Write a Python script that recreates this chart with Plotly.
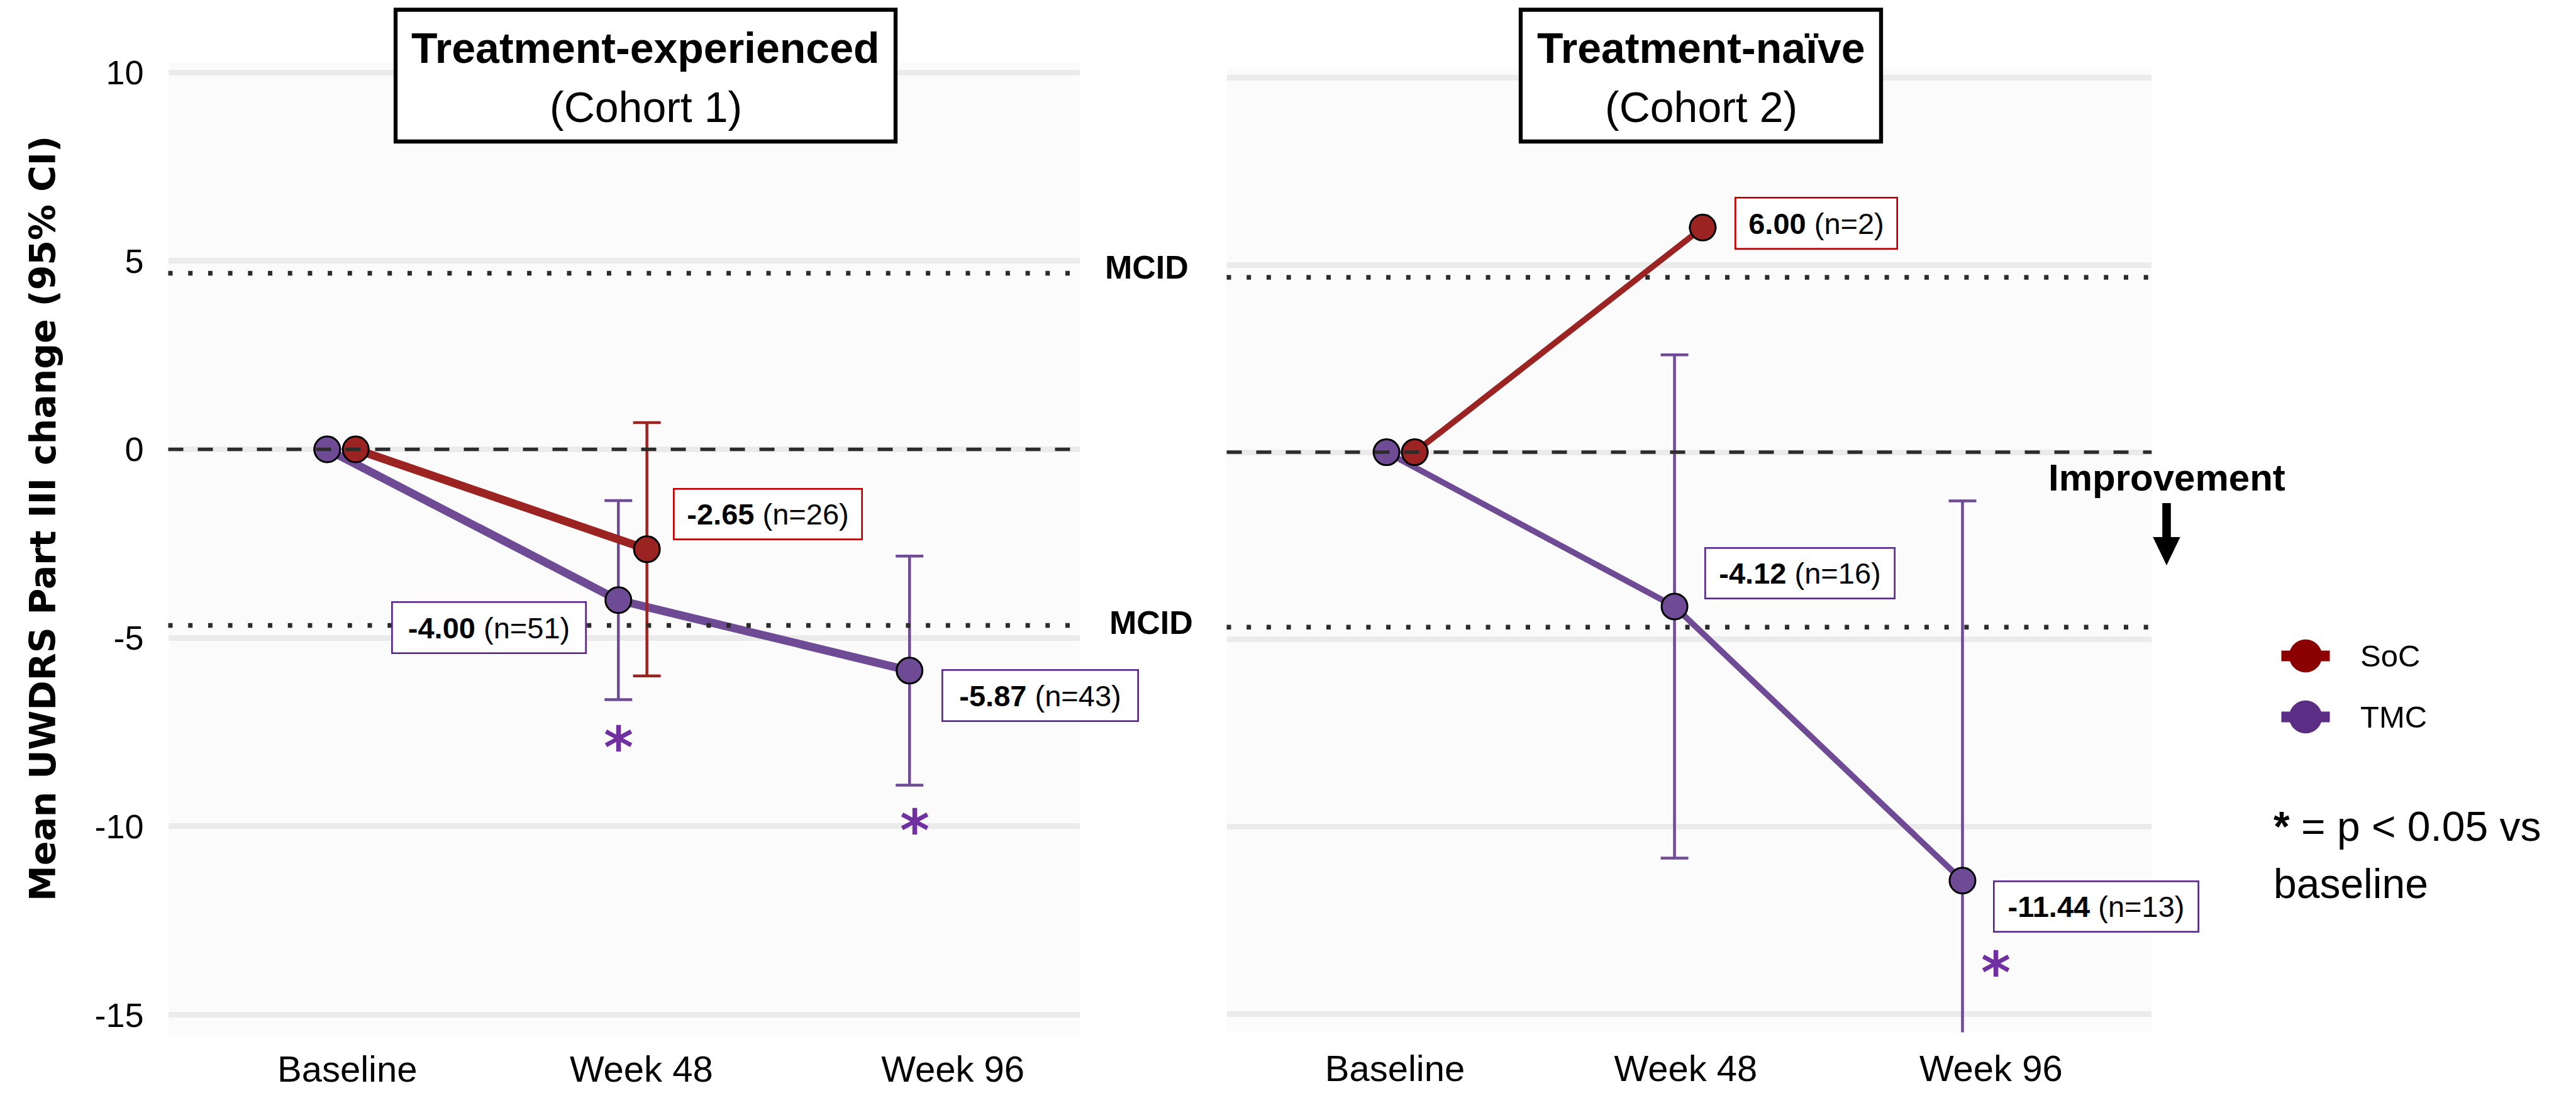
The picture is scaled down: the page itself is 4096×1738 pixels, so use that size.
import plotly.graph_objects as go

W, H = 4096, 1738

# ---------------- data ----------------
timepoints = ["Baseline", "Week 48", "Week 96"]

c1_soc_mean = [0.00, -2.65]
c1_soc_ci = [None, 3.36]
c1_soc_n = [None, 26]
c1_tmc_mean = [0.00, -4.00, -5.87]
c1_tmc_ci = [None, 2.64, 3.04]
c1_tmc_n = [None, 51, 43]
c1_tmc_sig = [False, True, True]

c2_soc_mean = [0.00, 6.00]
c2_soc_ci = [None, None]
c2_soc_n = [None, 2]
c2_tmc_mean = [0.00, -4.12, -11.44]
c2_tmc_ci = [None, 6.72, 10.14]
c2_tmc_n = [None, 16, 13]
c2_tmc_sig = [False, False, True]

mcid = 4.67
y_ticks = [-15, -10, -5, 0, 5, 10]
y_ticktext = ["-15", "-10", "-5", "0", "5", "10"]
series_names = ["SoC", "TMC"]

# ---------------- style ----------------
RED = "#9b2423"
PURPLE = "#6f4a95"
RED_BOX = "#c00000"
PURPLE_BOX = "#5b2c8c"
STAR = "#7030a0"
LEG_COLORS = ["#8b0000", "#5c2d84"]
SANS = "Liberation Sans, Arial, sans-serif"
DODGE = 0.049
# category label placement (slightly offset as in the original figure)
TICKPOS_LEFT = [0.02, 1.03, 2.10]
TICKPOS_RIGHT = [-0.02, 0.99, 2.05]


def px(x):
    return x / W


def py(y):
    return 1 - y / H


def paper_text(x, y, text, size, family=SANS, xanchor="center", **kw):
    return dict(x=px(x), y=py(y), xref="paper", yref="paper", showarrow=False,
                xanchor=xanchor, yanchor="middle", text=text,
                font=dict(family=family, size=size, color="black"), **kw)


fig = go.Figure()

panels = [
    dict(xa="x", ya="y", lw=13,
         soc=(c1_soc_mean, c1_soc_ci, c1_soc_n),
         tmc=(c1_tmc_mean, c1_tmc_ci, c1_tmc_n, c1_tmc_sig),
         # label offsets (xshift, yshift, width, height) in px
         soc_lab={1: (192, 56, 302, 83)},
         tmc_lab={1: (-206, -44, 311, 84), 2: (208, -40, 314, 84)},
         star={1: (0, -234), 2: (8, -254)}),
    dict(xa="x2", ya="y2", lw=9.5,
         soc=(c2_soc_mean, c2_soc_ci, c2_soc_n),
         tmc=(c2_tmc_mean, c2_tmc_ci, c2_tmc_n, c2_tmc_sig),
         soc_lab={1: (181, 7, 260, 84)},
         tmc_lab={1: (199, 53, 304, 83), 2: (213, -41, 328, 83)},
         star={2: (53, -146)}),
]

annotations = []
shapes = []

for p in panels:
    # zero dashed line and MCID dotted lines
    shapes.append(dict(type="line", xref=p["xa"] + " domain", yref=p["ya"],
                       x0=0, x1=1, y0=0, y1=0, layer="above",
                       line=dict(color="#2b2b2b", width=5.5, dash="24px,23px")))
    for v in (mcid, -mcid):
        shapes.append(dict(type="line", xref=p["xa"] + " domain", yref=p["ya"],
                           x0=0, x1=1, y0=v, y1=v, layer="above",
                           line=dict(color="#2b2b2b", width=7.5, dash="7px,24.7px")))
    for key, off, col, boxcol in (("tmc", -DODGE, PURPLE, PURPLE_BOX),
                                  ("soc", DODGE, RED, RED_BOX)):
        mean, ci, n = p[key][0], p[key][1], p[key][2]
        xs = [i + off for i in range(len(mean))]
        fig.add_trace(go.Scatter(
            x=xs, y=mean, mode="lines+markers",
            xaxis=p["xa"], yaxis=p["ya"],
            line=dict(color=col, width=p["lw"]),
            marker=dict(size=41, color=col, line=dict(color="black", width=3)),
            error_y=dict(type="data", array=ci, symmetric=True,
                         color=col, thickness=4.5, width=22),
            showlegend=False, hoverinfo="skip"))
        labs = p[key + "_lab"]
        for i, (m, nn) in enumerate(zip(mean, n)):
            if nn is None:
                continue
            xs_, ys_, bw, bh = labs[i]
            bwid = 2.7
            annotations.append(dict(
                x=xs[i], y=m, xref=p["xa"], yref=p["ya"], showarrow=False,
                xanchor="center", yanchor="middle",
                xshift=xs_, yshift=ys_,
                text=f"<b>{m:.2f}</b> (n={nn})",
                font=dict(family=SANS, size=47, color="black"),
                width=bw - 2 * bwid, height=bh - 2 * bwid,
                borderwidth=bwid, borderpad=0, bordercolor=boxcol,
                bgcolor="white", align="center", valign="middle"))
        if key == "tmc":
            sig = p[key][3]
            for i, s in enumerate(sig):
                if s:
                    dx, dy = p["star"][i]
                    annotations.append(dict(
                        x=xs[i], y=mean[i], xref=p["xa"], yref=p["ya"],
                        showarrow=False, xanchor="center", yanchor="middle",
                        xshift=dx, yshift=dy, text="<b>*</b>",
                        font=dict(family="DejaVu Sans", size=90, color=STAR)))

# ---------------- panel titles ----------------
for (x0, x1, l1, l2) in ((629, 1424, "Treatment-experienced", "(Cohort 1)"),
                         (2418, 2991, "Treatment-naïve", "(Cohort 2)")):
    shapes.append(dict(type="rect", xref="paper", yref="paper",
                       x0=px(x0), x1=px(x1), y0=py(225), y1=py(15.5),
                       fillcolor="white", line=dict(color="black", width=6.3),
                       layer="above"))
    cx = (x0 + x1) / 2
    annotations.append(paper_text(cx, 76, f"<b>{l1}</b>", 68))
    annotations.append(paper_text(cx, 170, l2, 68))

# ---------------- MCID labels ----------------
for (x, y) in ((1823, 425), (1830, 990)):
    annotations.append(paper_text(x, y, "<b>MCID</b>", 52))

# ---------------- Improvement arrow ----------------
annotations.append(paper_text(3445, 759, "<b>Improvement</b>", 60))
shapes.append(dict(type="rect", xref="paper", yref="paper",
                   x0=px(3438.2), x1=px(3451.8), y0=py(858), y1=py(800),
                   fillcolor="black", line=dict(width=0), layer="above"))
shapes.append(dict(type="path", xref="paper", yref="paper",
                   path=f"M{px(3423.3)},{py(854)} L{px(3466.7)},{py(854)} L{px(3445)},{py(899)} Z",
                   fillcolor="black", line=dict(width=0), layer="above"))

# ---------------- legend ----------------
for k, (name, col) in enumerate(zip(series_names, LEG_COLORS)):
    cy = 1043 + k * 97
    shapes.append(dict(type="rect", xref="paper", yref="paper",
                       x0=px(3627.5), x1=px(3704.5), y0=py(cy + 8.5), y1=py(cy - 8.5),
                       fillcolor=col, line=dict(width=0), layer="above"))
    shapes.append(dict(type="circle", xref="paper", yref="paper",
                       x0=px(3666 - 26.3), x1=px(3666 + 26.3),
                       y0=py(cy + 26.3), y1=py(cy - 26.3),
                       fillcolor=col, line=dict(width=0), layer="above"))
    annotations.append(paper_text(3751, cy, name, 49, xanchor="left"))

# ---------------- significance note ----------------
annotations.append(paper_text(3613, 1314, "<b>*</b> = p < 0.05 vs", 66, xanchor="left"))
annotations.append(paper_text(3613, 1405, "baseline", 66, xanchor="left"))

# ---------------- y axis title ----------------
annotations.append(paper_text(68, 825, "<b>Mean UWDRS Part III change (95% CI)</b>",
                              57, family="DejaVu Sans", textangle=-90))

common_x = dict(ticktext=timepoints, showgrid=False,
                zeroline=False, showline=False, ticks="", automargin=False,
                tickfont=dict(family=SANS, size=58, color="black"),
                fixedrange=True)
common_y = dict(tickvals=y_ticks, ticktext=y_ticktext, showgrid=True,
                gridcolor="#ebebeb", gridwidth=9, zeroline=False,
                showline=False, ticks="", automargin=False, fixedrange=True)

fig.update_layout(
    width=W, height=H,
    margin=dict(l=0, r=0, t=0, b=0, pad=0),
    paper_bgcolor="white", plot_bgcolor="#fbfbfb",
    showlegend=False,
    xaxis=dict(domain=[0.06531, 0.41931], range=[-0.595, 2.537], anchor="y",
               tickvals=TICKPOS_LEFT, ticklabelstandoff=13, **common_x),
    yaxis=dict(domain=[0.05190, 0.94275], range=[-15.57, 10.26], anchor="x",
               showticklabels=True, ticklabelstandoff=38,
               tickfont=dict(family=SANS, size=54, color="black"), **common_y),
    xaxis2=dict(domain=[0.47620, 0.83529], range=[-0.604, 2.608], anchor="y2",
                tickvals=TICKPOS_RIGHT, ticklabelstandoff=19, **common_x),
    yaxis2=dict(domain=[0.05558, 0.93774], range=[-15.49, 10.26], anchor="x2",
                showticklabels=False, **common_y),
    annotations=annotations,
    shapes=shapes,
)

fig.write_html("out.html", config={"displayModeBar": False},
               post_script="document.body.style.margin='0';document.body.style.padding='0';")
